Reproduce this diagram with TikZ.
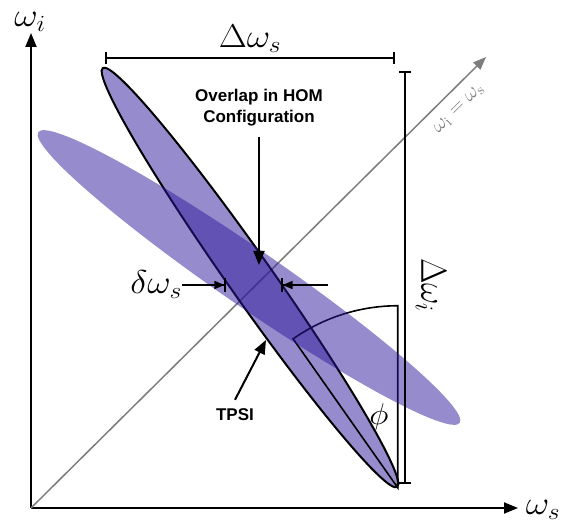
\RequirePackage{fix-cm}
\documentclass[tikz,border=0pt]{standalone}
\usepackage{fontspec}
\setsansfont{Liberation Sans}
\usepackage{xcolor}
\usetikzlibrary{arrows.meta,positioning,shapes.geometric,calc}

\definecolor{jsablue}{RGB}{45,25,155}
\definecolor{diaggray}{RGB}{125,125,125}

\begin{document}
\begin{tikzpicture}[x=1pt,y=1pt,
  mathlbl/.style={font=\fontsize{33}{33}\selectfont,inner sep=0pt,xscale=1.1},
  note/.style={font=\fontsize{17}{21}\selectfont\bfseries\sffamily,align=center,inner sep=0pt},
  axis/.style={-{Triangle[length=14pt,width=11pt]},line width=2pt},
  ptr/.style={-{Triangle[length=14pt,width=11pt]},line width=2pt},
  gapmark/.style={-{Triangle[length=10pt,width=8pt]Bar[width=14pt]},line width=1.6pt},
  span/.style={{Bar[width=12pt]}-{Bar[width=12pt]},line width=2pt},
  blob/.style={ellipse,inner sep=0pt,fill=jsablue,fill opacity=0.5}]
\useasboundingbox (0,0) rectangle (565,522);
% axes
\coordinate (O) at (31,14);
\coordinate (wiTip) at (31,489);
\coordinate (wsTip) at (518,14);
\coordinate (diagTip) at (486,465);
\node[mathlbl] (wi) at (30,500) {$\omega_i$};
\node[mathlbl] (ws) at (543,12) {$\omega_s$};
\draw[axis] (O)--(wiTip);
\draw[axis] (O)--(wsTip);
\draw[diaggray,line width=1.5pt,-{Triangle[length=13pt,width=10pt]}] (O)--(diagTip);
\node[diaggray,font=\fontsize{21}{21}\selectfont,inner sep=0pt,rotate=44.7] (diaglbl) at (459,413) {$\omega_{\mathrm{i}}=\omega_{\mathrm{s}}$};
% TPSI state and angle
\node[blob,draw=black,draw opacity=1,line width=2pt,minimum width=512pt,minimum height=44pt,rotate=-54.9] (tpsi) at (250,244.5) {};
\draw[line width=1.6pt] (tpsi.east)--++(125.1:182) arc[start angle=125.1,end angle=90,radius=182]--cycle;
\node[mathlbl,font=\fontsize{30}{30}\selectfont,xscale=1] (phi) at (379,105) {$\phi$};
% second state
\node[blob,minimum width=512pt,minimum height=58pt,rotate=-34.6] (hom) at (249,244.5) {};
% bandwidths
\coordinate (dsL) at (105,464);
\coordinate (dsR) at (395,464);
\draw[span] (dsL)--(dsR);
\node[mathlbl,above=5pt of $(dsL)!0.5!(dsR)$] (dws) {$\Delta\omega_s$};
\coordinate (diT) at (405,451);
\coordinate (diB) at (405,38);
\draw[span] (diT)--(diB);
\node[mathlbl,rotate=-90] (dwi) at (431,237) {$\Delta\omega_i$};
% overlap width
\node[mathlbl,left=1pt of {(183,237)}] (dw) {$\delta\omega_s$};
\coordinate (gapL) at (226,237);
\coordinate (gapR) at (281,237);
\coordinate (gapRin) at (328,237);
\draw[gapmark] (dw.east)--(gapL);
\draw[gapmark] (gapRin)--(gapR);
% notes
\node[note] (ovl) at (259,414) {Overlap in HOM\\Configuration};
\coordinate (ovlTip) at (259,257);
\draw[ptr] ([yshift=-10pt]ovl.south)--(ovlTip);
\node[note] (tpsilbl) at (235,107) {TPSI};
\coordinate (tpsiTip) at (266,182);
\draw[ptr] ([yshift=9pt]tpsilbl.north)--(tpsiTip);
\end{tikzpicture}
\end{document}
